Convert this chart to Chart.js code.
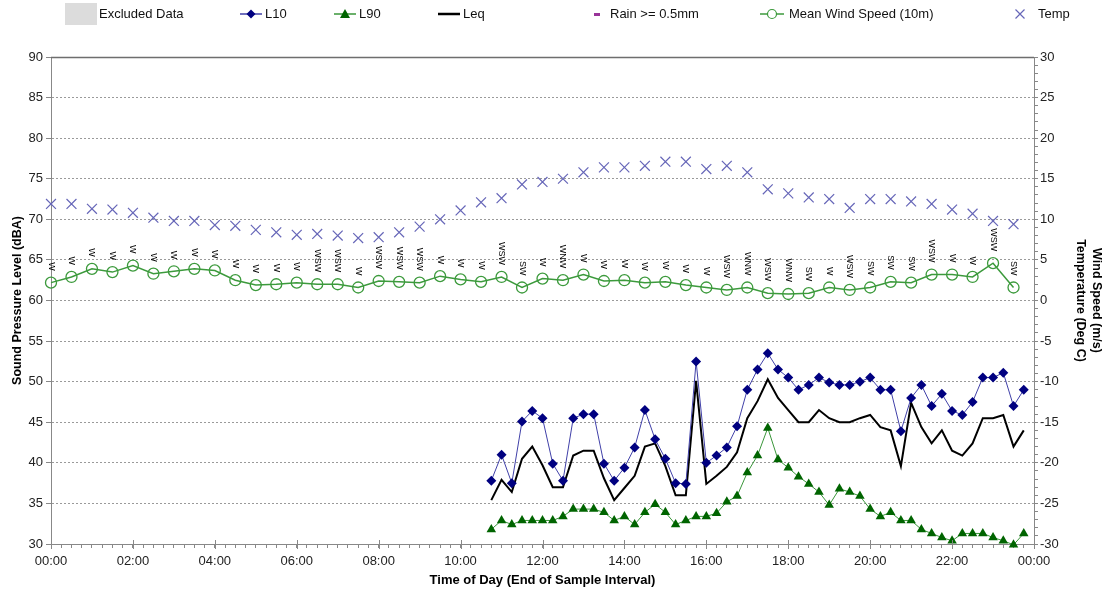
<!DOCTYPE html>
<html>
<head>
<meta charset="utf-8">
<script src="https://cdn.jsdelivr.net/npm/chart.js@4.4.1/dist/chart.umd.min.js"></script>
<style>
  html, body { margin: 0; padding: 0; background: #fff; }
  #c { display: block; }
</style>
</head>
<body>
<canvas id="c" width="1105" height="591"></canvas>
<script>
// ---------- DATA ----------
const halfHourTimes = ["00:00","00:30","01:00","01:30","02:00","02:30","03:00","03:30","04:00","04:30","05:00","05:30",
  "06:00","06:30","07:00","07:30","08:00","08:30","09:00","09:30","10:00","10:30","11:00","11:30",
  "12:00","12:30","13:00","13:30","14:00","14:30","15:00","15:30","16:00","16:30","17:00","17:30",
  "18:00","18:30","19:00","19:30","20:00","20:30","21:00","21:30","22:00","22:30","23:00","23:30"];

const temp = [11.9,11.9,11.3,11.2,10.8,10.2,9.8,9.8,9.3,9.2,8.7,8.4,
  8.1,8.2,8.0,7.7,7.8,8.4,9.1,10.0,11.1,12.1,12.6,14.3,
  14.6,15.0,15.8,16.4,16.4,16.6,17.1,17.1,16.2,16.6,15.8,13.7,
  13.2,12.7,12.5,11.4,12.5,12.5,12.2,11.9,11.2,10.7,9.8,9.4];

const windSpeed = [2.2,2.9,3.9,3.5,4.3,3.3,3.6,3.9,3.7,2.5,1.9,2.0,
  2.2,2.0,2.0,1.6,2.4,2.3,2.2,3.0,2.6,2.3,2.9,1.6,
  2.7,2.5,3.2,2.4,2.5,2.2,2.3,1.9,1.6,1.3,1.6,0.9,
  0.8,0.9,1.6,1.3,1.6,2.3,2.2,3.2,3.2,2.9,4.6,1.6];

const windDir = ["W","W","W","W","W","W","W","W","W","W","W","W",
  "W","WSW","WSW","W","WSW","WSW","WSW","W","W","W","WSW","SW",
  "W","WNW","W","W","W","W","W","W","W","WSW","WNW","WSW",
  "WNW","SW","W","WSW","SW","SW","SW","WSW","W","W","WSW","SW"];

const quarterTimes = ["10:45","11:00","11:15","11:30","11:45","12:00","12:15","12:30","12:45",
  "13:00","13:15","13:30","13:45","14:00","14:15","14:30","14:45","15:00","15:15","15:30","15:45",
  "16:00","16:15","16:30","16:45","17:00","17:15","17:30","17:45","18:00","18:15","18:30","18:45",
  "19:00","19:15","19:30","19:45","20:00","20:15","20:30","20:45","21:00","21:15","21:30","21:45",
  "22:00","22:15","22:30","22:45","23:00","23:15","23:30","23:45"];

const l10 = [37.8,41.0,37.5,45.1,46.4,45.5,39.9,37.8,45.5,
  46.0,46.0,39.9,37.8,39.4,41.9,46.5,42.9,40.5,37.5,37.4,52.5,
  40.0,40.9,41.9,44.5,49.0,51.5,53.5,51.5,50.5,49.0,49.6,50.5,
  49.9,49.6,49.6,50.0,50.5,49.0,49.0,43.9,48.0,49.6,47.0,48.5,
  46.4,45.9,47.5,50.5,50.5,51.1,47.0,49.0];

const l90 = [31.8,32.9,32.4,32.9,32.9,32.9,32.9,33.4,34.3,
  34.3,34.3,33.9,32.9,33.4,32.4,33.9,34.9,33.9,32.4,32.9,33.4,
  33.4,33.8,35.2,35.9,38.8,40.9,44.3,40.4,39.4,38.3,37.4,36.4,
  34.8,36.8,36.4,35.9,34.3,33.4,33.9,32.9,32.9,31.8,31.3,30.8,
  30.4,31.3,31.3,31.3,30.8,30.4,29.9,31.3];

const leq = [35.4,37.9,36.4,40.5,42.0,39.7,37.0,37.0,40.9,
  41.5,41.5,38.1,35.4,36.9,38.4,42.0,42.4,39.6,36.0,36.0,50.1,
  37.4,38.4,39.5,41.3,45.5,47.6,50.3,48.0,46.5,45.0,45.0,46.5,
  45.5,45.0,45.0,45.5,45.9,44.4,44.0,39.6,47.4,44.4,42.4,44.0,
  41.5,40.9,42.4,45.5,45.5,45.9,42.0,44.0];

const legendLabels = ["Excluded Data","L10","L90","Leq","Rain >= 0.5mm","Mean Wind Speed (10m)","Temp"];
const xTitle = "Time of Day (End of Sample Interval)";
const yTitle = "Sound Pressure Level (dBA)";
const y2Title = ["Wind Speed (m/s)", "Temperature (Deg C)"];

// ---------- HELPERS ----------
const FONT = "'Liberation Sans', Arial, Helvetica, sans-serif";
const toH = s => { const p = s.split(':').map(Number); return p[0] + p[1] / 60; };
const pts = (times, vals) => times.map((t, i) => ({ x: toH(t), y: vals[i] }));
const fmtHour = v => String(Math.round(v) % 24).padStart(2, '0') + ':00';

const C = {
  l10Line: '#4040a8', l10Pt: '#000080',
  l90Line: '#3a963a', l90Pt: '#006400',
  leq: '#000000',
  wind: '#3c9a3c',
  temp: '#6666b8',
  rain: '#993399',
  excl: '#dcdcdc'
};

// ---------- PLUGINS ----------
const windLabelPlugin = {
  id: 'windLabels',
  afterDatasetsDraw(chart) {
    const idx = chart.data.datasets.findIndex(d => d.id === 'wind');
    const meta = chart.getDatasetMeta(idx);
    const ctx = chart.ctx;
    ctx.save();
    ctx.font = '9px ' + FONT;
    ctx.fillStyle = '#000';
    meta.data.forEach((el, i) => {
      ctx.save();
      ctx.translate(el.x, el.y - 12);
      ctx.rotate(Math.PI / 2);
      ctx.textAlign = 'right';
      ctx.textBaseline = 'middle';
      ctx.fillText(windDir[i], 0, 0);
      ctx.restore();
    });
    ctx.restore();
  }
};

const framePlugin = {
  id: 'frame',
  afterDraw(chart) {
    const { ctx, chartArea: a, scales } = chart;
    ctx.save();
    ctx.strokeStyle = '#6e6e6e';
    ctx.lineWidth = 1.5;
    ctx.beginPath();
    ctx.moveTo(a.left, a.top + 0.5);
    ctx.lineTo(a.right, a.top + 0.5);
    ctx.stroke();
    ctx.strokeStyle = '#888';
    ctx.lineWidth = 1;
    for (let h = 0; h <= 24; h += 2) {
      const x = Math.round(scales.x.getPixelForValue(h)) + 0.5;
      ctx.beginPath();
      ctx.moveTo(x, a.bottom - 4);
      ctx.lineTo(x, a.bottom + 5);
      ctx.stroke();
    }
    ctx.restore();
  }
};

function drawMarker(ctx, type, x, y) {
  ctx.save();
  if (type === 'diamond') {
    ctx.fillStyle = C.l10Pt;
    ctx.beginPath();
    ctx.moveTo(x, y - 4.5); ctx.lineTo(x + 4.5, y); ctx.lineTo(x, y + 4.5); ctx.lineTo(x - 4.5, y);
    ctx.closePath(); ctx.fill();
  } else if (type === 'triangle') {
    ctx.fillStyle = C.l90Pt;
    ctx.beginPath();
    ctx.moveTo(x, y - 5); ctx.lineTo(x + 5, y + 4); ctx.lineTo(x - 5, y + 4);
    ctx.closePath(); ctx.fill();
  } else if (type === 'circle') {
    ctx.strokeStyle = C.wind; ctx.fillStyle = '#fff'; ctx.lineWidth = 1.2;
    ctx.beginPath(); ctx.arc(x, y, 4.5, 0, Math.PI * 2); ctx.fill(); ctx.stroke();
  } else if (type === 'x') {
    ctx.strokeStyle = C.temp; ctx.lineWidth = 1.2;
    ctx.beginPath();
    ctx.moveTo(x - 4.5, y - 4.5); ctx.lineTo(x + 4.5, y + 4.5);
    ctx.moveTo(x + 4.5, y - 4.5); ctx.lineTo(x - 4.5, y + 4.5);
    ctx.stroke();
  }
  ctx.restore();
}

const legendPlugin = {
  id: 'customLegend',
  afterDraw(chart) {
    const ctx = chart.ctx;
    const y = 14;
    ctx.save();
    ctx.font = '13px ' + FONT;
    ctx.textBaseline = 'middle';
    ctx.textAlign = 'left';
    ctx.fillStyle = C.excl;
    ctx.fillRect(65, 3, 32, 22);
    ctx.fillStyle = '#111';
    ctx.fillText(legendLabels[0], 99, y);
    ctx.strokeStyle = C.l10Line; ctx.lineWidth = 1.5;
    ctx.beginPath(); ctx.moveTo(240, y); ctx.lineTo(262, y); ctx.stroke();
    drawMarker(ctx, 'diamond', 251, y);
    ctx.fillStyle = '#111'; ctx.fillText(legendLabels[1], 265, y);
    ctx.strokeStyle = C.l90Line;
    ctx.beginPath(); ctx.moveTo(334, y); ctx.lineTo(356, y); ctx.stroke();
    drawMarker(ctx, 'triangle', 345, y);
    ctx.fillStyle = '#111'; ctx.fillText(legendLabels[2], 359, y);
    ctx.strokeStyle = C.leq; ctx.lineWidth = 2.5;
    ctx.beginPath(); ctx.moveTo(438, y); ctx.lineTo(460, y); ctx.stroke();
    ctx.fillStyle = '#111'; ctx.fillText(legendLabels[3], 463, y);
    ctx.fillStyle = C.rain;
    ctx.fillRect(594, y - 1, 6, 3);
    ctx.fillStyle = '#111'; ctx.fillText(legendLabels[4], 610, y);
    ctx.strokeStyle = C.wind; ctx.lineWidth = 1.5;
    ctx.beginPath(); ctx.moveTo(760, y); ctx.lineTo(784, y); ctx.stroke();
    drawMarker(ctx, 'circle', 772, y);
    ctx.fillStyle = '#111'; ctx.fillText(legendLabels[5], 789, y);
    drawMarker(ctx, 'x', 1020, y);
    ctx.fillStyle = '#111'; ctx.fillText(legendLabels[6], 1038, y);
    ctx.restore();
  }
};

// ---------- CHART ----------
new Chart(document.getElementById('c'), {
  type: 'line',
  data: {
    datasets: [
      {
        id: 'temp', label: legendLabels[6], data: pts(halfHourTimes, temp), yAxisID: 'y2',
        showLine: false, pointStyle: 'crossRot', pointRadius: 7, pointBorderWidth: 1.2,
        borderColor: C.temp, backgroundColor: C.temp, order: 5, clip: false
      },
      {
        id: 'wind', label: legendLabels[5], data: pts(halfHourTimes, windSpeed), yAxisID: 'y2',
        borderColor: C.wind, borderWidth: 1.5, pointStyle: 'circle', pointRadius: 5.5,
        pointBorderWidth: 1.3, pointBorderColor: C.wind, pointBackgroundColor: 'rgba(255,255,255,0)',
        tension: 0, order: 4, clip: false
      },
      {
        id: 'l90', label: legendLabels[2], data: pts(quarterTimes, l90), yAxisID: 'y',
        borderColor: C.l90Line, borderWidth: 1, pointStyle: 'triangle', pointRadius: 5.5,
        pointBorderWidth: 0, pointBackgroundColor: C.l90Pt, pointBorderColor: C.l90Pt,
        tension: 0, order: 3, clip: false
      },
      {
        id: 'leq', label: legendLabels[3], data: pts(quarterTimes, leq), yAxisID: 'y',
        borderColor: C.leq, borderWidth: 2, pointRadius: 0, tension: 0, order: 2
      },
      {
        id: 'l10', label: legendLabels[1], data: pts(quarterTimes, l10), yAxisID: 'y',
        borderColor: C.l10Line, borderWidth: 1, pointStyle: 'rectRot', pointRadius: 5,
        pointBorderWidth: 0, pointBackgroundColor: C.l10Pt, pointBorderColor: C.l10Pt,
        tension: 0, order: 1
      }
    ]
  },
  options: {
    responsive: false,
    animation: false,
    devicePixelRatio: 1,
    layout: { padding: { top: 57, left: 0, right: 0, bottom: 0 } },
    plugins: { legend: { display: false }, tooltip: { enabled: false } },
    elements: { line: { fill: false } },
    scales: {
      x: {
        type: 'linear', position: 'bottom', min: 0, max: 24,
        afterFit: s => { s.height = 47; },
        ticks: {
          stepSize: 0.25, autoSkip: false, maxRotation: 0, minRotation: 0,
          callback: v => (Math.abs(v / 2 - Math.round(v / 2)) < 1e-6 ? fmtHour(v) : ''),
          font: { family: FONT, size: 13 }, color: '#222', padding: 6
        },
        grid: { drawOnChartArea: false, drawTicks: true, tickLength: 4, tickColor: '#888', color: '#888' },
        border: { color: '#888', width: 1 },
        title: { display: true, text: xTitle, font: { family: FONT, size: 13, weight: 'bold' }, color: '#000', padding: { top: 0, bottom: 3 } }
      },
      y: {
        type: 'linear', position: 'left', min: 30, max: 90,
        afterFit: s => { s.width = 51; },
        ticks: { stepSize: 5, font: { family: FONT, size: 13 }, color: '#222', padding: 3 },
        grid: { color: '#9a9a9a', lineWidth: 1, tickLength: 5, tickColor: '#888', tickBorderDash: [] },
        border: { color: '#888', width: 1, dash: [2, 2] },
        title: { display: true, text: yTitle, font: { family: FONT, size: 12.5, weight: 'bold' }, color: '#000', padding: { top: 10, bottom: 0 } }
      },
      y2: {
        type: 'linear', position: 'right', min: -30, max: 30,
        afterFit: s => { s.width = 71; },
        ticks: {
          stepSize: 1, autoSkip: false,
          callback: v => (v % 5 === 0 ? String(v) : ''),
          font: { family: FONT, size: 13 }, color: '#222', padding: 2
        },
        grid: { drawOnChartArea: false, tickLength: 4, tickColor: '#888', color: '#888' },
        border: { color: '#888', width: 1 },
        title: { display: true, text: y2Title, font: { family: FONT, size: 12.5, weight: 'bold', lineHeight: 1.25 }, color: '#000', padding: { top: 1, bottom: 0 } }
      }
    }
  },
  plugins: [windLabelPlugin, framePlugin, legendPlugin]
});
</script>
</body>
</html>
